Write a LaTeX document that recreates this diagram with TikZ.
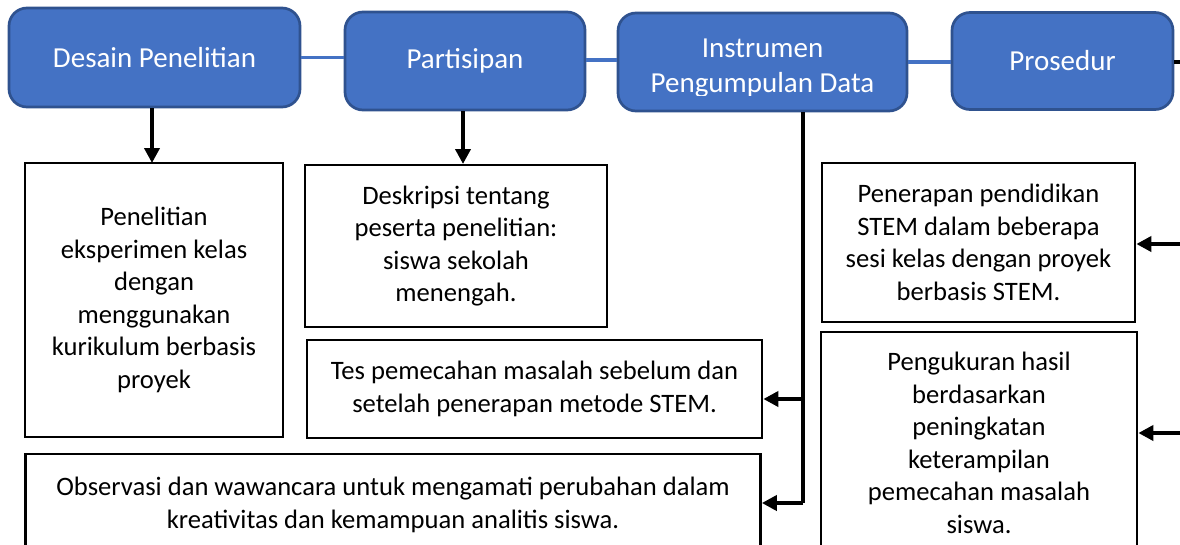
\documentclass[tikz,border=0pt]{standalone}
\usepackage{fontspec}
\setmainfont{Carlito}
\usetikzlibrary{arrows.meta}
\definecolor{hblue}{HTML}{4472C4}
\definecolor{hedge}{HTML}{2F528F}
\tikzset{
  head/.style={draw=hedge, line width=2.7pt, fill=hblue, rounded corners=18pt, text=white, align=center, inner sep=0pt, font=\fontsize{29}{35}\selectfont},
  headtext/.style={text=white, align=center, inner sep=0pt, font=\fontsize{29}{35}\selectfont},
  box/.style={draw=black, line width=2.7pt, fill=white, align=center, inner sep=0pt, font=\fontsize{26.6}{32.5}\selectfont},
  link/.style={draw=hblue, line width=3.5pt},
  arr/.style={draw=black, line width=3.8pt, -{Triangle[length=15pt,width=15pt]}},
  plain/.style={draw=black, line width=3.8pt}
}
\begin{document}
\begin{tikzpicture}[x=1pt,y=-1pt]
\useasboundingbox (0,0) rectangle (1180,544);
\clip (0,0) rectangle (1180,544);
\node[head, minimum width=291pt, minimum height=99pt] (d1) at (154.5,57.5) {Desain Penelitian};
\node[head, minimum width=240pt, minimum height=98pt] (d2) at (465,61) {Partisipan};
\node[head, minimum width=289pt, minimum height=98pt] (d3) at (762.5,62) {};
\begin{scope}
\clip (d3.north west) rectangle (907,95);
\node[headtext, anchor=base] (d3t) at (762.5,92) {Instrumen\\Pengumpulan Data};
\end{scope}
\node[head, minimum width=221pt, minimum height=97pt] (d4) at (1062.5,61) {Prosedur};

\node[box, minimum width=258pt, minimum height=274pt] (b5) at (154,300) {Penelitian\\eksperimen kelas\\dengan\\menggunakan\\kurikulum berbasis\\proyek};
\node[box, minimum width=302pt, minimum height=162pt] (b6) at (456,246) {Deskripsi tentang\\peserta penelitian:\\siswa sekolah\\menengah.};
\node[box, minimum width=455pt, minimum height=98pt] (b7) at (534.5,389) {Tes pemecahan masalah sebelum dan\\setelah penerapan metode STEM.};
\node[box, minimum width=735pt, minimum height=102pt] (b8) at (393,505) {Observasi dan wawancara untuk mengamati perubahan dalam\\kreativitas dan kemampuan analitis siswa.};
\node[box, minimum width=313pt, minimum height=159pt] (b9) at (978.5,242.5) {Penerapan pendidikan\\STEM dalam beberapa\\sesi kelas dengan proyek\\berbasis STEM.};
\node[box, minimum width=316pt, minimum height=222pt] (b10) at (979,443) {Pengukuran hasil\\berdasarkan\\peningkatan\\keterampilan\\pemecahan masalah\\siswa.};

\draw[link] (d1.east) -- (d1.east -| d2.west);
\draw[link] (d2.east |- 0,60) -- (d3.west |- 0,60);
\draw[link] (d3.east |- 0,62) -- (d4.west |- 0,62);

\coordinate (r0) at (1180,62);
\coordinate (r1) at (1180,244);
\coordinate (r2) at (1180,433);
\draw[plain] (d4.east |- r0) -- (r0);
\draw[arr] (r1) -- (r1 -| b9.east);
\draw[arr] (r2) -- (r2 -| b10.east);

\draw[arr] (d1.south -| 152,0) -- (152,163);
\draw[arr] (d2.south -| 463,0) -- (463,164);

\coordinate (j1) at (803,399);
\coordinate (j2) at (803,503);
\draw[plain] (d3.south -| j2) -- (j2);
\draw[arr] (j1) -- (j1 -| b7.east);
\draw[arr] (j2) -- (j2 -| b8.east);
\end{tikzpicture}
\end{document}
